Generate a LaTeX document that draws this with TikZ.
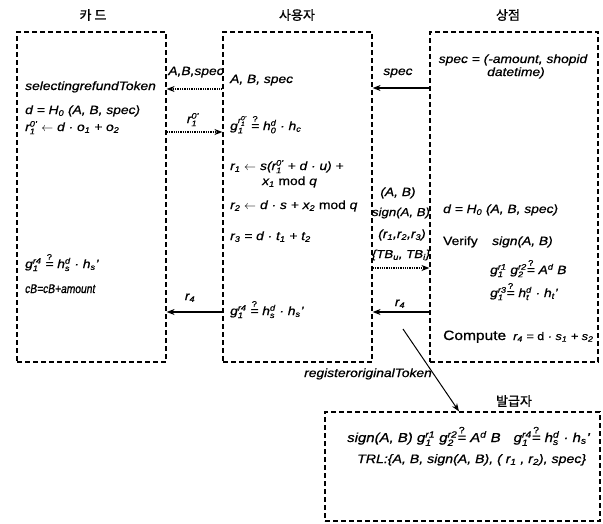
\documentclass[tikz,border=0pt]{standalone}
\usepackage{amsmath}
\usepackage{fontspec}
\setmainfont{Liberation Sans}[FakeStretch=1.15,FakeBold=0.8]
\newfontfamily\narrowfont{Liberation Sans}[FakeStretch=0.82,FakeBold=0.8]
\newfontfamily\krfont{Noto Sans CJK KR}[FakeBold=1]
\usetikzlibrary{arrows.meta}

\newcommand{\tsub}[1]{\textsubscript{#1}}
\newcommand{\tsup}[1]{\textsuperscript{#1}}
\newcommand{\tsubsup}[2]{\mbox{$_{\text{#1}}^{\text{#2}}$}}
\newcommand{\qeq}{\mbox{$\stackrel{\text{\upshape ?}}{\text{=}}$}}
\newcommand{\getsto}{\mbox{$\leftarrow$}}

\tikzset{
  dbox/.style={draw, line width=1.2pt, dash pattern=on 5pt off 3pt, inner sep=0pt},
  txt/.style={font=\itshape\fontsize{12}{14}\selectfont, inner sep=0pt, anchor=base west},
  bigtxt/.style={txt, font=\itshape\fontsize{13}{15}\selectfont},
  lbl/.style={txt, anchor=base},
  title/.style={font=\krfont\fontsize{13}{15}\selectfont, inner sep=0pt},
  msg/.style={line width=1.3pt, -{Stealth[length=8pt,width=6pt]}},
  dmsg/.style={msg, densely dotted},
}

\begin{document}
\begin{tikzpicture}[x=1pt,y=-1pt]
\useasboundingbox (0,0) rectangle (603,523);

\node[dbox, minimum width=149pt, minimum height=330pt] (card) at (91.5,197) {};
\node[dbox, minimum width=149pt, minimum height=330pt] (user) at (297.5,197) {};
\node[dbox, minimum width=168pt, minimum height=330pt] (shop) at (514,197) {};
\node[dbox, minimum width=275pt, minimum height=109pt] (issuer) at (462.5,466.5) {};

\node[title] (tcard) at (93,15) {카 드};
\node[title] (tuser) at (297,15) {사용자};
\node[title] (tshop) at (508,15) {상점};
\node[title] (tissuer) at (514,401) {발급자};

\node[txt] (ctoken) at (25,90) {selectingrefundToken};
\node[txt] (cd) at (25,114) {d = H\tsub{0} (A, B, spec)};
\node[txt] (cr) at (25,131) {r\tsubsup{1}{0'} \getsto{} d · o\tsub{1} + o\tsub{2}};
\node[txt] (ccheck) at (25,268) {g\tsubsup{1}{r4} \qeq{} h\tsubsup{s}{d} · h\tsub{s}'};
\node[txt, font=\narrowfont\itshape\fontsize{12.5}{14}\selectfont] (ccb) at (25,293) {cB=cB+amount};

\node[txt] (uabs) at (230,83) {A, B, spec};
\node[txt] (ucheck) at (230,130) {g\tsubsup{1}{r\tsubsup{1}{0'}} \qeq{} h\tsubsup{0}{d} · h\tsub{c}};
\node[txt] (ur1) at (230,170) {r\tsub{1} \getsto{} s(r\tsubsup{1}{0'} + d · u) +};
\node[txt] (ux1) at (262,185) {x\tsub{1} \textup{mod} q};
\node[txt] (ur2) at (230,209) {r\tsub{2} \getsto{} d · s + x\tsub{2} \textup{mod} q};
\node[txt] (ur3) at (230,240) {r\tsub{3} = d · t\tsub{1} + t\tsub{2}};
\node[txt] (ucheck2) at (230,315) {g\tsubsup{1}{r4} \qeq{} h\tsubsup{s}{d} · h\tsub{s}'};

\node[lbl] (sspec) at (513,63) {spec = (-amount, shopid};
\node[lbl] (sdate) at (516,76) {datetime)};
\node[txt] (sd) at (443,213) {d = H\tsub{0} (A, B, spec)};
\node[txt] (sverify) at (443,245) {\textup{Verify}};
\node[txt] (ssign) at (492,245) {sign(A, B)};
\node[txt] (sg12) at (490,274) {g\tsubsup{1}{r1} g\tsubsup{2}{r2}\qeq{} A\tsup{d} B};
\node[txt] (sg3) at (490,297) {g\tsubsup{1}{r3}\qeq{} h\tsubsup{t}{d} · h\tsub{t}'};
\node[txt, font=\fontsize{13.5}{15}\selectfont] (scompute) at (443,340) {Compute};
\node[txt, font=\itshape\fontsize{11}{13}\selectfont] (sr4) at (513,340) {r\tsub{4} = \textup{d} · s\tsub{1} + s\tsub{2}};

\node[bigtxt] (isign) at (347,442) {sign(A, B) g\tsubsup{1}{r1} g\tsubsup{2}{r2}\qeq{} A\tsup{d} B\quad g\tsubsup{1}{r4}\qeq{} h\tsubsup{s}{d} · h\tsub{s}'};
\node[txt, font=\itshape\fontsize{12.3}{14}\selectfont] (itrl) at (357,463) {TRL:\{A, B, sign(A, B), ( r\tsub{1} , r\tsub{2}), spec\}};

\node[lbl] (labs) at (196,75) {A,B,spec};
\node[lbl] (lr) at (193,123) {r\tsubsup{1}{0'}};
\node[lbl] (lspec) at (398,75) {spec};
\node[lbl] (lab) at (398,196) {(A, B)};
\node[lbl, font=\itshape\fontsize{11.5}{14}\selectfont] (lsign) at (401,216) {sign(A, B)};
\node[lbl] (lr123) at (402,238) {(r\tsub{1},r\tsub{2},r\tsub{3})};
\node[lbl, font=\itshape\fontsize{11.5}{14}\selectfont] (ltb) at (401,258) {\{TB\tsub{u}, TB\tsub{i}\}};
\node[lbl] (lr4a) at (190,300) {r\tsub{4}};
\node[lbl] (lr4b) at (400,306) {r\tsub{4}};
\node[txt, anchor=base east] (lreg) at (432,377) {registeroriginalToken};

\draw[dmsg] (user.west |- 0,89) -- (card.east |- 0,89);
\draw[dmsg] (card.east |- 0,132) -- (user.west |- 0,132);
\draw[msg] (shop.west |- 0,88) -- (user.east |- 0,88);
\draw[dmsg] (user.east |- 0,268) -- (shop.west |- 0,268);
\draw[msg] (user.west |- 0,312) -- (card.east |- 0,312);
\draw[msg] (shop.west |- 0,312) -- (user.east |- 0,312);
\coordinate (regstart) at (403,329);
\draw[msg, line width=1pt] (regstart) -- (issuer.north -| 459,0);

\end{tikzpicture}
\end{document}
